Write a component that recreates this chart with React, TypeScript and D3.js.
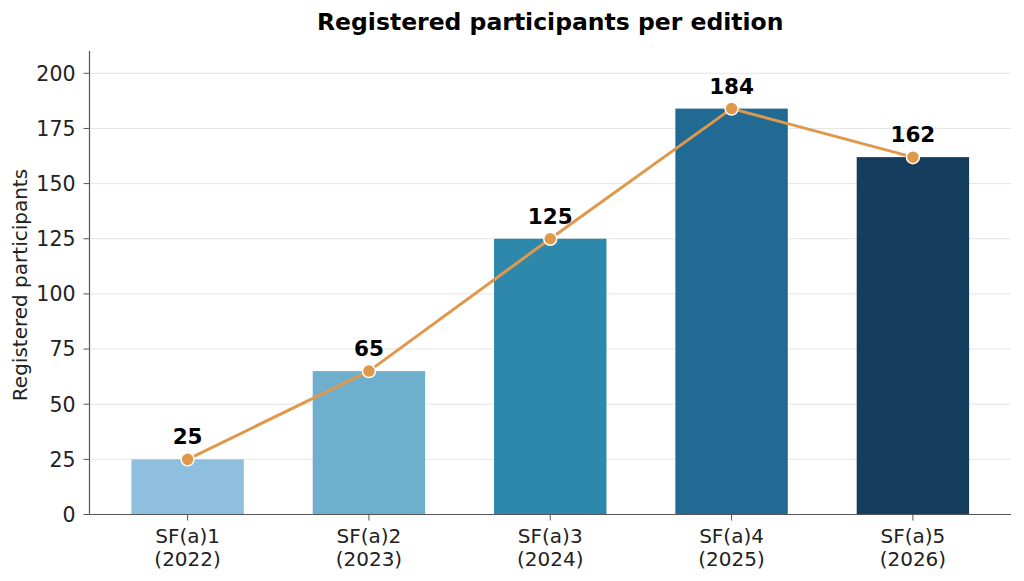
import React from "react";
import * as d3 from "d3";

const categories = ["SF(a)1\n(2022)", "SF(a)2\n(2023)", "SF(a)3\n(2024)", "SF(a)4\n(2025)", "SF(a)5\n(2026)"];
const values = [25, 65, 125, 184, 162];
const barColors = ["#8fbfdf", "#6eafce", "#2e88ac", "#216a93", "#143c5c"];
const yTicks = [0, 25, 50, 75, 100, 125, 150, 175, 200];

const W = 1024;
const H = 581;
const left = 89.5;
const right = 1011;
const top = 51;
const bottom = 514.5;

export default function App() {
  const x = d3.scaleLinear().domain([-0.541, 4.541]).range([left, right]);
  const y = d3.scaleLinear().domain([0, 210]).range([bottom, bottom - 210 * ((514.5 - 73.3) / 200)]);
  const barW = x(0.62) - x(0);
  const line = d3
    .line<number>()
    .x((_, i) => x(i))
    .y((d) => y(d));
  const font = "DejaVu Sans, sans-serif";
  return (
    <svg width={W} height={H} style={{ position: "absolute", left: 0, top: 0, background: "#fff" }} fontFamily={font}>
      <text x={(left + right) / 2} y={30} textAnchor="middle" fontSize={23.5} fontWeight="bold" fill="#000">
        Registered participants per edition
      </text>
      {yTicks.map((t) => (
        <g key={t}>
          <line x1={left} x2={right} y1={y(t)} y2={y(t)} stroke="#e5e5e5" strokeWidth={1} />
          <line x1={left - 6} x2={left} y1={y(t)} y2={y(t)} stroke="#555" strokeWidth={1} />
          <text x={left - 14} y={y(t)} dy="0.36em" textAnchor="end" fontSize={20.5} fill="#222">
            {t}
          </text>
        </g>
      ))}
      {values.map((v, i) => (
        <rect key={i} x={x(i) - barW / 2} y={y(v)} width={barW} height={y(0) - y(v)} fill={barColors[i]} />
      ))}
      <line x1={left} x2={left} y1={top} y2={bottom} stroke="#555" strokeWidth={1.2} />
      <line x1={left} x2={right} y1={bottom} y2={bottom} stroke="#555" strokeWidth={1.2} />
      {categories.map((c, i) => (
        <g key={c}>
          <line x1={x(i)} x2={x(i)} y1={bottom} y2={bottom + 6} stroke="#555" strokeWidth={1} />
          {c.split("\n").map((s, j) => (
            <text key={j} x={x(i)} y={543 + j * 22.5} textAnchor="middle" fontSize={20} fill="#222">
              {s}
            </text>
          ))}
        </g>
      ))}
      <path d={line(values) || ""} fill="none" stroke="#e0994b" strokeWidth={3} strokeLinejoin="round" />
      {values.map((v, i) => (
        <g key={i}>
          <circle cx={x(i)} cy={y(v)} r={6.5} fill="#e0994b" stroke="#fff" strokeWidth={1.5} />
          <text x={x(i)} y={y(v) - 15} textAnchor="middle" fontSize={21.5} fontWeight="bold" fill="#000">
            {v}
          </text>
        </g>
      ))}
      <text
        transform={`translate(27,${285}) rotate(-90)`}
        textAnchor="middle"
        fontSize={20}
        fill="#222"
      >
        Registered participants
      </text>
    </svg>
  );
}
